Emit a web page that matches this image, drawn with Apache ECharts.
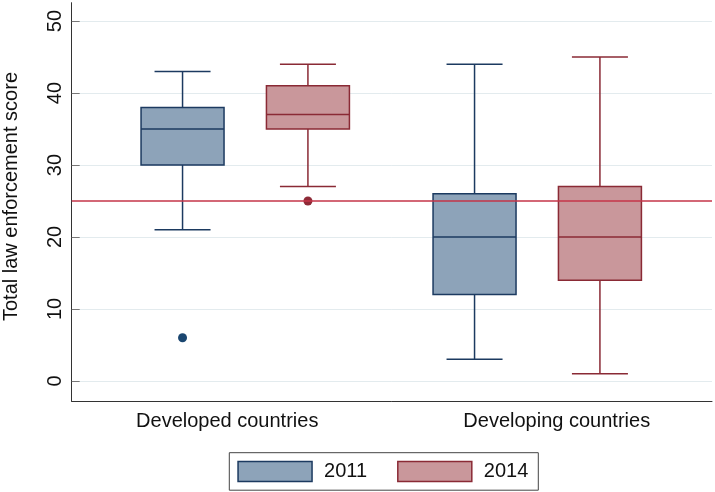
<!DOCTYPE html>
<html>
<head>
<meta charset="utf-8">
<script src="https://cdn.jsdelivr.net/npm/echarts@6/dist/echarts.min.js"></script>
<style>
html,body{margin:0;padding:0;background:#fff;}
#c{width:715px;height:492px;}
</style>
</head>
<body>
<div id="c"></div>
<script>
// ---- data ----
const groups = ['Developed countries', 'Developing countries'];
const years = ['2011', '2014'];
// [min, Q1, median, Q3, max] per group
const box2011 = [[21, 30, 35, 38, 43], [3, 12, 20, 26, 44]];
const box2014 = [[27, 35, 37, 41, 44], [1, 14, 20, 27, 45]];
// outliers: [group index, value]
const outliers2011 = [[0, 6]];
const outliers2014 = [[0, 25]];
const refValue = 25;
const yTicks = [0, 10, 20, 30, 40, 50];
const yTitle = 'Total law enforcement score';

// ---- styles ----
const FONT = '"Liberation Sans", Arial, sans-serif';
const BLUE_FILL = '#8da3b9', BLUE_LINE = '#1c3a60', BLUE_DOT = '#1a4670';
const RED_FILL = '#c9979b', RED_LINE = '#8a2a35', RED_DOT = '#8e2a37';
const REF_COLOR = '#c43448';
const OFFSET = 0.2147, BOX_HALF = 0.1421, CAP_HALF = 0.0959;

function boxData(arr) { return arr.map((b, i) => [i + 1].concat(b)); }
function outData(arr) { return arr.map(o => [o[0] + 1, o[1]]); }

function boxRender(side, fill, stroke) {
  return function (params, api) {
    const g = api.value(0);
    const cx = api.coord([g + side * OFFSET, 0])[0];
    const hw = api.size([BOX_HALF, 0])[0];
    const cw = api.size([CAP_HALF, 0])[0];
    const y = [1, 2, 3, 4, 5].map(k => api.coord([g, api.value(k)])[1]);
    const ls = { stroke: stroke, lineWidth: 1.5, fill: null };
    return {
      type: 'group',
      children: [
        { type: 'line', shape: { x1: cx, y1: y[0], x2: cx, y2: y[1] }, style: ls },
        { type: 'line', shape: { x1: cx, y1: y[3], x2: cx, y2: y[4] }, style: ls },
        { type: 'line', shape: { x1: cx - cw, y1: y[0], x2: cx + cw, y2: y[0] }, style: ls },
        { type: 'line', shape: { x1: cx - cw, y1: y[4], x2: cx + cw, y2: y[4] }, style: ls },
        { type: 'rect', shape: { x: cx - hw, y: y[3], width: 2 * hw, height: y[1] - y[3] },
          style: { fill: fill, stroke: stroke, lineWidth: 1.5 } },
        { type: 'line', shape: { x1: cx - hw, y1: y[2], x2: cx + hw, y2: y[2] }, style: ls }
      ]
    };
  };
}
function dotRender(side, color) {
  return function (params, api) {
    const g = api.value(0);
    const p = api.coord([g + side * OFFSET, api.value(1)]);
    return { type: 'circle', shape: { cx: p[0], cy: p[1], r: 4.5 }, style: { fill: color } };
  };
}

const chart = echarts.init(document.getElementById('c'), null, { renderer: 'canvas' });
chart.setOption({
  animation: false,
  backgroundColor: '#fff',
  textStyle: { fontFamily: FONT },
  grid: { left: 71.7, right: 3, top: 2.7, bottom: 90.7, containLabel: false, outerBoundsMode: 'none' },
  legend: {
    left: 229.3, top: 452.7,
    padding: [8, 10, 8, 8],
    borderColor: '#444', borderWidth: 1,
    itemWidth: 74, itemHeight: 20, itemGap: 30,
    textStyle: { fontSize: 20, color: '#111', fontFamily: FONT, padding: [0, 0, 0, 7] },
    data: [
      { name: years[0], icon: 'rect', itemStyle: { color: BLUE_FILL, borderColor: BLUE_LINE, borderWidth: 1.5 } },
      { name: years[1], icon: 'rect', itemStyle: { color: RED_FILL, borderColor: RED_LINE, borderWidth: 1.5 } }
    ]
  },
  xAxis: {
    type: 'value', min: 0.4057, max: 2.5985,
    axisLine: { show: true, onZero: false, lineStyle: { color: '#333', width: 1 } },
    axisTick: { show: false },
    splitLine: { show: false },
    axisLabel: {
      customValues: [1, 2], margin: 10,
      formatter: v => (v === 1 ? '{a|' + groups[0] + '}' : '{b|' + groups[1] + '}'),
      rich: {
        a: { fontSize: 20, color: '#111', fontFamily: FONT, padding: [0, 36, 0, 0] },
        b: { fontSize: 20, color: '#111', fontFamily: FONT, padding: [0, 0, 0, 39] }
      }
    }
  },
  yAxis: {
    type: 'value', min: -2.83, max: 52.55,
    name: yTitle, nameLocation: 'middle', nameRotate: 90, nameGap: 50,
    nameTextStyle: { fontSize: 20, color: '#111', fontFamily: FONT, padding: [0, 0, 0, 11] },
    axisLine: { show: true, onZero: false, lineStyle: { color: '#333', width: 1 } },
    axisTick: { show: true, inside: true, length: 8, customValues: yTicks, lineStyle: { color: '#777', width: 1 } },
    axisLabel: { customValues: yTicks, rotate: 90, margin: 6, fontSize: 20, color: '#111', fontFamily: FONT },
    splitLine: { show: true, lineStyle: { color: '#e3ebee', width: 1 } }
  },
  series: [
    {
      type: 'line', name: 'ref', data: [], z: 1, silent: true,
      markLine: {
        silent: true, symbol: 'none', label: { show: false },
        lineStyle: { color: REF_COLOR, width: 1.5, type: 'solid' },
        data: [{ yAxis: refValue }]
      }
    },
    {
      type: 'custom', name: years[0], z: 3,
      itemStyle: { color: BLUE_FILL, borderColor: BLUE_LINE },
      encode: { x: 0, y: [1, 2, 3, 4, 5] },
      renderItem: boxRender(-1, BLUE_FILL, BLUE_LINE),
      data: boxData(box2011)
    },
    {
      type: 'custom', name: years[1], z: 3,
      itemStyle: { color: RED_FILL, borderColor: RED_LINE },
      encode: { x: 0, y: [1, 2, 3, 4, 5] },
      renderItem: boxRender(1, RED_FILL, RED_LINE),
      data: boxData(box2014)
    },
    {
      type: 'custom', name: years[0], z: 4,
      encode: { x: 0, y: 1 },
      renderItem: dotRender(-1, BLUE_DOT),
      data: outData(outliers2011)
    },
    {
      type: 'custom', name: years[1], z: 4,
      encode: { x: 0, y: 1 },
      renderItem: dotRender(1, RED_DOT),
      data: outData(outliers2014)
    }
  ]
});
</script>
</body>
</html>
